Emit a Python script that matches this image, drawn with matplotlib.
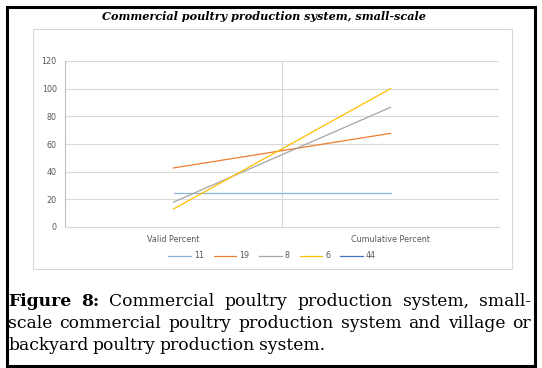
import numpy as np
import matplotlib
matplotlib.use("Agg")
from matplotlib import pyplot as plt
from matplotlib.patches import Rectangle

categories = ["Valid Percent", "Cumulative Percent"]
series_names = ["11", "19", "8", "6", "44"]
series_values = [
    [24.4, 24.4],
    [42.7, 67.7],
    [18.0, 86.5],
    [13.0, 100.0],
    [np.nan, np.nan],
]
series_colors = ["#8FB4DC", "#ED7D31", "#A5A5A5", "#FFC000", "#4472C4"]
y_ticks = [0, 20, 40, 60, 80, 100, 120]

title = "Commercial poultry production system, small-scale"
caption_lines = [
    ["Figure", "8:", "Commercial", "poultry", "production", "system,", "small-"],
    ["scale", "commercial", "poultry", "production", "system", "and", "village", "or"],
    ["backyard", "poultry", "production", "system."],
]

W, H = 542, 368
fig = plt.figure(figsize=(W / 100, H / 100), dpi=100)


def fx(px):
    return px / W


def fy(py):
    return 1 - py / H


# outer black frame and light chart box
fig.patches.append(Rectangle((fx(6.5), fy(366)), fx(528), fy(6.5) - fy(366),
                             transform=fig.transFigure, fill=False, edgecolor="black", linewidth=2.2))
fig.patches.append(Rectangle((fx(33), fy(269)), fx(479), fy(29) - fy(269),
                             transform=fig.transFigure, fill=False, edgecolor="#D9D9D9", linewidth=0.8))

ax = fig.add_axes([fx(65), fy(227), fx(499 - 65), fy(61) - fy(227)])
x = np.arange(len(categories))
for name, vals, col in zip(series_names, series_values, series_colors):
    ax.plot(x, vals, color=col, linewidth=0.9, label=name)

ax.set_xlim(-0.5, len(categories) - 0.5)
ax.set_ylim(0, 120)
ax.set_yticks(y_ticks)
ax.set_xticks(x)
ax.set_xticklabels(categories)
ax.set_xticks(np.arange(len(categories)) + 0.5, minor=True)
ax.tick_params(axis="both", which="both", length=0, labelsize=5.8, colors="#595959", pad=6)
ax.grid(axis="y", color="#D9D9D9", linewidth=0.8)
ax.grid(axis="x", which="minor", color="#D9D9D9", linewidth=0.8)
ax.set_axisbelow(True)
for s in ["top", "right"]:
    ax.spines[s].set_visible(False)
ax.spines["left"].set_color("#BFBFBF")
ax.spines["bottom"].set_color("#D9D9D9")
ax.spines["left"].set_linewidth(0.8)
ax.spines["bottom"].set_linewidth(0.8)

fig.legend(loc="center", bbox_to_anchor=(fx(272), fy(256)), ncol=5, frameon=False,
           fontsize=5.8, handlelength=2.8, columnspacing=1.2, handletextpad=0.4,
           labelcolor="#595959")

fig.text(fx(264), fy(16), title, ha="center", va="center", fontsize=8.1,
         family="DejaVu Serif", weight="bold", style="italic")

# justified caption
renderer = fig.canvas.get_renderer()
left_px, right_px = 8, 531
line_y = [301, 323, 345]
cap_family = "DejaVu Serif"
cap_size = 12.3

for li, words in enumerate(caption_lines):
    items = []
    for wi, w in enumerate(words):
        bold = li == 0 and wi < 2
        t = fig.text(0, fy(line_y[li]), w, ha="left", va="center", fontsize=cap_size,
                     family=cap_family, weight="bold" if bold else "normal", color="black")
        items.append(t)
    widths = [t.get_window_extent(renderer).width for t in items]
    if li < len(caption_lines) - 1:
        gap = (right_px - left_px - sum(widths)) / (len(items) - 1)
    else:
        gap = 0.33 * cap_size
    pos = left_px
    for t, w in zip(items, widths):
        t.set_x(fx(pos))
        pos += w + gap

fig.savefig("out.png", dpi=100)
